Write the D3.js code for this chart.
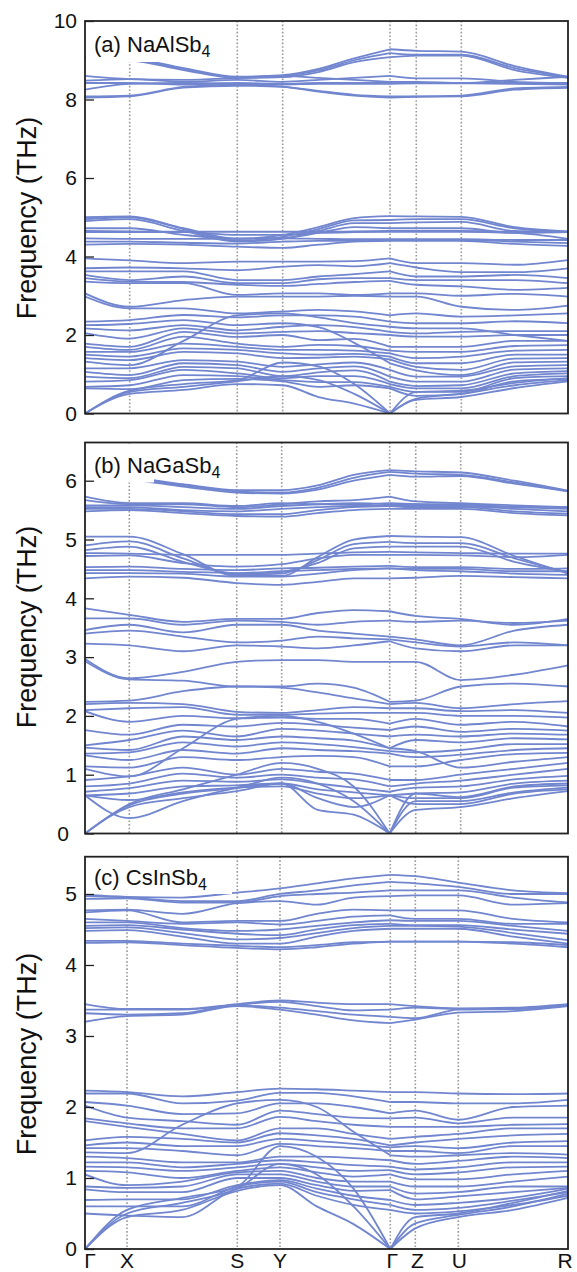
<!DOCTYPE html>
<html>
<head>
<meta charset="utf-8">
<script src="https://cdn.jsdelivr.net/npm/d3@7"></script>
<style>
  body { margin: 0; background: #fff; }
  text { font-family: Helvetica, Arial, "Liberation Sans", sans-serif; fill: #111; }
</style>
</head>
<body>
<script>
// high-symmetry path labels
var pathLabels = ["Γ", "X", "S", "Y", "Γ", "Z", "U", "R"];

// ---------- (a) NaAlSb4 ----------
var hsA = [0, 0.0925, 0.3153, 0.4093, 0.6315, 0.6859, 0.7791, 1.0];
// sample k: G, X, XS/2, S, Y, YG/3, 2YG/3, G, Z, U, UR/2, R
var kA = [0, 0.0925, 0.2039, 0.3153, 0.4093, 0.4834, 0.5574, 0.6315, 0.6859, 0.7791, 0.8896, 1.0];
var ticksA = [0, 2, 4, 6, 8, 10];
var bandsA = [
  [0, 0.50, 0.60, 0.75, 0.72, 0.42, 0.25, 0, 0.35, 0.42, 0.65, 0.82],
  [0, 0.55, 0.68, 0.82, 0.95, 0.85, 0.50, 0, 0.38, 0.50, 0.72, 0.85],
  [0, 0.58, 0.75, 0.85, 1.30, 1.20, 0.75, 0, 0.55, 0.58, 0.78, 0.90],
  [0.64, 0.62, 0.85, 0.88, 0.82, 0.68, 0.72, 0.64, 0.45, 0.50, 0.82, 0.88],
  [0.68, 0.72, 0.98, 0.95, 0.85, 0.80, 0.80, 0.68, 0.55, 0.55, 0.90, 0.95],
  [0.81, 0.85, 1.11, 1.02, 0.90, 0.95, 0.95, 0.75, 0.64, 0.64, 0.95, 1.02],
  [0.94, 0.90, 1.19, 1.15, 0.95, 1.05, 1.10, 0.81, 0.70, 0.72, 1.02, 1.08],
  [1.06, 0.98, 1.28, 1.23, 1.06, 1.15, 1.20, 0.94, 0.81, 0.81, 1.12, 1.15],
  [1.15, 1.15, 1.36, 1.32, 1.19, 1.25, 1.30, 1.11, 0.94, 0.94, 1.20, 1.23],
  [1.32, 1.23, 1.85, 2.50, 2.55, 2.45, 2.30, 2.21, 2.17, 2.17, 2.00, 1.85],
  [1.41, 1.36, 1.57, 1.53, 1.41, 1.42, 1.45, 1.38, 1.19, 1.11, 1.40, 1.41],
  [1.50, 1.45, 1.66, 1.62, 1.53, 1.50, 1.52, 1.45, 1.28, 1.28, 1.50, 1.50],
  [1.57, 1.57, 1.78, 1.70, 1.62, 1.62, 1.60, 1.53, 1.41, 1.45, 1.60, 1.62],
  [1.70, 1.62, 1.96, 1.78, 1.70, 1.75, 1.72, 1.60, 1.57, 1.57, 1.72, 1.74],
  [1.78, 1.70, 2.08, 1.95, 2.00, 1.87, 1.90, 1.70, 1.70, 1.70, 1.85, 1.85],
  [2.05, 1.91, 2.17, 2.04, 2.08, 2.10, 2.05, 2.00, 1.96, 1.96, 2.00, 2.00],
  [2.17, 2.12, 2.25, 2.12, 2.21, 2.25, 2.20, 2.08, 2.04, 2.08, 2.10, 2.10],
  [2.25, 2.28, 2.38, 2.25, 2.30, 2.20, 1.80, 1.28, 1.10, 0.98, 1.30, 1.32],
  [2.34, 2.38, 2.51, 2.45, 2.50, 2.50, 2.47, 2.34, 2.30, 2.30, 2.35, 2.30],
  [2.98, 2.68, 2.68, 2.55, 2.60, 2.64, 2.60, 2.50, 2.55, 2.47, 2.50, 2.55],
  [3.06, 2.72, 2.89, 2.98, 2.98, 2.98, 3.00, 2.98, 2.98, 2.72, 2.64, 2.75],
  [3.36, 3.32, 3.32, 3.02, 3.06, 3.06, 3.02, 3.06, 3.06, 3.00, 3.05, 2.98],
  [3.45, 3.36, 3.35, 3.28, 3.25, 3.30, 3.35, 3.38, 3.28, 3.24, 3.15, 3.20],
  [3.53, 3.40, 3.49, 3.32, 3.32, 3.42, 3.45, 3.45, 3.40, 3.40, 3.40, 3.32],
  [3.62, 3.62, 3.62, 3.40, 3.40, 3.49, 3.55, 3.62, 3.49, 3.49, 3.53, 3.45],
  [3.70, 3.72, 3.70, 3.65, 3.74, 3.78, 3.75, 3.83, 3.72, 3.60, 3.60, 3.70],
  [3.95, 3.90, 3.83, 3.87, 3.87, 3.87, 3.88, 3.95, 3.83, 3.83, 3.79, 3.91],
  [4.30, 4.32, 4.30, 4.25, 4.22, 4.30, 4.38, 4.40, 4.40, 4.40, 4.32, 4.27],
  [4.38, 4.38, 4.35, 4.33, 4.38, 4.40, 4.40, 4.42, 4.42, 4.42, 4.38, 4.34],
  [4.46, 4.45, 4.45, 4.45, 4.46, 4.45, 4.44, 4.44, 4.44, 4.44, 4.42, 4.42],
  [4.62, 4.62, 4.62, 4.55, 4.55, 4.60, 4.62, 4.63, 4.63, 4.63, 4.60, 4.45],
  [4.65, 4.64, 4.63, 4.63, 4.63, 4.63, 4.64, 4.65, 4.65, 4.65, 4.63, 4.62],
  [4.72, 4.72, 4.55, 4.46, 4.47, 4.60, 4.75, 4.72, 4.72, 4.72, 4.60, 4.62],
  [4.90, 4.95, 4.65, 4.38, 4.45, 4.65, 4.85, 4.85, 4.87, 4.88, 4.65, 4.62],
  [4.95, 5.00, 4.70, 4.40, 4.50, 4.70, 4.92, 4.93, 4.95, 4.95, 4.72, 4.63],
  [5.00, 5.02, 4.72, 4.45, 4.55, 4.75, 4.98, 5.03, 5.02, 5.01, 4.75, 4.64],
  [8.05, 8.08, 8.30, 8.35, 8.32, 8.20, 8.10, 8.05, 8.07, 8.08, 8.25, 8.30],
  [8.08, 8.10, 8.32, 8.38, 8.33, 8.22, 8.12, 8.08, 8.08, 8.10, 8.28, 8.32],
  [8.25, 8.40, 8.42, 8.40, 8.38, 8.40, 8.40, 8.40, 8.41, 8.41, 8.40, 8.38],
  [8.42, 8.42, 8.38, 8.42, 8.40, 8.42, 8.42, 8.42, 8.42, 8.42, 8.42, 8.40],
  [8.48, 8.52, 8.45, 8.50, 8.45, 8.50, 8.55, 8.60, 8.54, 8.54, 8.45, 8.42],
  [8.60, 8.52, 8.50, 8.55, 8.60, 8.55, 8.50, 8.45, 8.45, 8.42, 8.50, 8.58],
  [9.04, 9.00, 8.75, 8.55, 8.57, 8.70, 8.95, 9.08, 9.12, 9.12, 8.75, 8.55],
  [9.06, 9.03, 8.78, 8.56, 8.60, 8.74, 9.00, 9.18, 9.14, 9.14, 8.80, 8.57],
  [9.08, 9.05, 8.80, 8.58, 8.62, 8.78, 9.05, 9.28, 9.24, 9.22, 8.85, 8.58]
];

// ---------- (b) NaGaSb4 ----------
var hsB = [0, 0.0917, 0.3141, 0.4072, 0.6308, 0.6847, 0.7778, 1.0];
var kB = [0, 0.0917, 0.2029, 0.3141, 0.4072, 0.4817, 0.5563, 0.6308, 0.6847, 0.7778, 0.8889, 1.0];
var ticksB = [0, 1, 2, 3, 4, 5, 6];
var bandsB = [
  [0, 0.45, 0.60, 0.72, 0.85, 0.40, 0.32, 0, 0.40, 0.45, 0.60, 0.72],
  [0, 0.48, 0.68, 0.78, 0.95, 0.85, 0.55, 0, 0.55, 0.55, 0.70, 0.78],
  [0, 0.50, 0.75, 1.00, 1.20, 1.10, 0.80, 0, 0.68, 0.62, 0.80, 0.85],
  [0.65, 0.26, 0.55, 0.77, 0.85, 0.60, 0.45, 0.65, 0.50, 0.50, 0.68, 0.75],
  [0.65, 0.57, 0.70, 0.78, 0.80, 0.68, 0.60, 0.65, 0.60, 0.60, 0.78, 0.82],
  [0.65, 0.68, 0.80, 0.82, 0.85, 0.75, 0.70, 0.65, 0.68, 0.70, 0.85, 0.90],
  [0.71, 0.77, 0.90, 0.88, 0.92, 0.85, 0.78, 0.71, 0.78, 0.80, 0.92, 0.98],
  [0.80, 0.85, 1.02, 0.95, 1.00, 0.95, 0.92, 0.80, 0.85, 0.90, 1.00, 1.10],
  [0.91, 0.97, 1.12, 1.00, 1.10, 1.05, 1.02, 0.91, 0.91, 1.00, 1.10, 1.20],
  [1.10, 0.97, 1.45, 1.95, 2.00, 1.90, 1.70, 1.45, 1.40, 1.12, 1.22, 1.30],
  [1.14, 1.12, 1.30, 1.25, 1.30, 1.32, 1.30, 1.14, 1.14, 1.25, 1.35, 1.37],
  [1.33, 1.25, 1.42, 1.36, 1.45, 1.42, 1.40, 1.36, 1.30, 1.34, 1.42, 1.45],
  [1.36, 1.38, 1.55, 1.48, 1.55, 1.52, 1.47, 1.40, 1.38, 1.42, 1.52, 1.52],
  [1.46, 1.42, 1.65, 1.59, 1.65, 1.62, 1.58, 1.45, 1.59, 1.55, 1.62, 1.60],
  [1.50, 1.59, 1.75, 1.65, 1.78, 1.75, 1.70, 1.65, 1.68, 1.65, 1.70, 1.68],
  [1.76, 1.68, 1.85, 1.82, 1.88, 1.85, 1.80, 1.76, 1.82, 1.73, 1.78, 1.75],
  [2.08, 1.90, 2.00, 1.96, 1.97, 1.95, 1.95, 1.87, 1.95, 1.85, 1.90, 1.82],
  [2.10, 2.13, 2.15, 2.02, 2.02, 2.04, 2.05, 2.05, 2.05, 2.00, 2.00, 1.97],
  [2.20, 2.22, 2.20, 2.07, 2.05, 2.10, 2.15, 2.13, 2.13, 2.08, 2.10, 2.05],
  [2.24, 2.26, 2.42, 2.50, 2.48, 2.40, 2.30, 2.20, 2.22, 2.13, 2.20, 2.25],
  [2.93, 2.62, 2.60, 2.50, 2.50, 2.55, 2.48, 2.24, 2.26, 2.50, 2.55, 2.50],
  [2.97, 2.64, 2.75, 2.92, 2.95, 2.95, 2.92, 2.92, 2.92, 2.61, 2.70, 2.86],
  [3.23, 3.20, 3.10, 3.20, 3.18, 3.15, 3.20, 3.27, 3.15, 3.10, 3.20, 3.20],
  [3.40, 3.45, 3.35, 3.25, 3.28, 3.35, 3.32, 3.30, 3.25, 3.18, 3.25, 3.20],
  [3.46, 3.55, 3.42, 3.55, 3.55, 3.45, 3.40, 3.35, 3.30, 3.20, 3.45, 3.55],
  [3.66, 3.66, 3.55, 3.62, 3.60, 3.55, 3.60, 3.62, 3.60, 3.62, 3.58, 3.62],
  [3.83, 3.72, 3.60, 3.65, 3.65, 3.75, 3.80, 3.78, 3.70, 3.65, 3.55, 3.65],
  [4.34, 4.37, 4.35, 4.26, 4.23, 4.28, 4.34, 4.34, 4.35, 4.38, 4.36, 4.34],
  [4.43, 4.43, 4.42, 4.37, 4.37, 4.42, 4.48, 4.51, 4.48, 4.46, 4.42, 4.40],
  [4.48, 4.48, 4.45, 4.43, 4.46, 4.48, 4.50, 4.51, 4.50, 4.50, 4.46, 4.46],
  [4.53, 4.54, 4.50, 4.48, 4.51, 4.52, 4.54, 4.55, 4.53, 4.53, 4.50, 4.51],
  [4.72, 4.73, 4.60, 4.54, 4.58, 4.68, 4.74, 4.74, 4.74, 4.73, 4.70, 4.74],
  [4.77, 4.76, 4.74, 4.74, 4.74, 4.76, 4.78, 4.79, 4.78, 4.77, 4.76, 4.76],
  [4.82, 4.88, 4.62, 4.42, 4.45, 4.60, 4.85, 4.88, 4.88, 4.88, 4.62, 4.45],
  [4.90, 4.97, 4.68, 4.40, 4.42, 4.65, 4.92, 4.96, 4.94, 4.94, 4.68, 4.44],
  [5.05, 5.05, 4.75, 4.38, 4.38, 4.70, 5.00, 5.06, 5.05, 5.04, 4.72, 4.42],
  [5.48, 5.50, 5.45, 5.40, 5.39, 5.45, 5.50, 5.52, 5.52, 5.52, 5.45, 5.41],
  [5.52, 5.52, 5.48, 5.43, 5.43, 5.50, 5.55, 5.57, 5.55, 5.55, 5.48, 5.44],
  [5.55, 5.55, 5.50, 5.48, 5.52, 5.55, 5.57, 5.57, 5.57, 5.57, 5.52, 5.48],
  [5.58, 5.58, 5.55, 5.52, 5.57, 5.60, 5.62, 5.60, 5.60, 5.60, 5.55, 5.52],
  [5.67, 5.60, 5.60, 5.55, 5.60, 5.65, 5.67, 5.73, 5.65, 5.62, 5.58, 5.55],
  [5.73, 5.62, 5.62, 5.57, 5.62, 5.60, 5.60, 5.62, 5.60, 5.57, 5.56, 5.55],
  [6.05, 6.02, 5.90, 5.80, 5.78, 5.85, 6.00, 6.10, 6.07, 6.08, 5.95, 5.82],
  [6.07, 6.04, 5.92, 5.82, 5.80, 5.88, 6.05, 6.15, 6.12, 6.10, 5.97, 5.82],
  [6.09, 6.06, 5.94, 5.84, 5.84, 5.92, 6.10, 6.18, 6.16, 6.14, 6.00, 5.83]
];

// ---------- (c) CsInSb4 ----------
var hsC = [0, 0.0870, 0.3153, 0.4037, 0.6321, 0.6839, 0.7729, 1.0];
var kC = [0, 0.0870, 0.2012, 0.3153, 0.4037, 0.4798, 0.5559, 0.6321, 0.6839, 0.7729, 0.8865, 1.0];
var ticksC = [0, 1, 2, 3, 4, 5];
var bandsC = [
  [0, 0.45, 0.55, 0.82, 0.90, 0.60, 0.35, 0, 0.29, 0.45, 0.55, 0.72],
  [0, 0.50, 0.65, 0.85, 1.20, 1.05, 0.60, 0, 0.36, 0.48, 0.60, 0.78],
  [0, 0.55, 0.72, 0.88, 1.45, 1.30, 0.85, 0, 0.45, 0.50, 0.65, 0.82],
  [0.50, 0.47, 0.45, 0.85, 0.92, 0.75, 0.62, 0.55, 0.50, 0.53, 0.62, 0.75],
  [0.60, 0.60, 0.60, 0.88, 0.95, 0.80, 0.70, 0.62, 0.55, 0.58, 0.68, 0.80],
  [0.69, 0.70, 0.70, 0.90, 0.97, 0.85, 0.75, 0.69, 0.62, 0.65, 0.72, 0.85],
  [0.84, 0.80, 0.80, 1.00, 1.00, 0.90, 0.82, 0.83, 0.70, 0.74, 0.80, 0.86],
  [0.88, 0.86, 0.88, 1.05, 1.05, 0.95, 0.88, 0.88, 0.78, 0.80, 0.88, 0.88],
  [1.05, 0.90, 0.95, 1.08, 1.10, 1.00, 0.95, 0.95, 0.88, 0.88, 0.95, 1.02],
  [1.10, 1.08, 1.00, 1.10, 1.15, 1.08, 1.02, 1.05, 0.98, 0.98, 1.05, 1.10],
  [1.16, 1.15, 1.10, 1.15, 1.20, 1.15, 1.10, 1.11, 1.05, 1.08, 1.15, 1.16],
  [1.22, 1.22, 1.15, 1.20, 1.25, 1.22, 1.18, 1.16, 1.12, 1.15, 1.22, 1.22],
  [1.30, 1.28, 1.22, 1.22, 1.30, 1.30, 1.28, 1.25, 1.20, 1.24, 1.30, 1.28],
  [1.36, 1.35, 1.75, 2.05, 2.10, 2.00, 1.65, 1.32, 1.30, 1.32, 1.35, 1.33],
  [1.42, 1.42, 1.38, 1.32, 1.48, 1.45, 1.42, 1.38, 1.38, 1.35, 1.45, 1.45],
  [1.46, 1.50, 1.45, 1.45, 1.55, 1.52, 1.48, 1.43, 1.45, 1.42, 1.50, 1.52],
  [1.53, 1.58, 1.55, 1.50, 1.63, 1.60, 1.55, 1.46, 1.50, 1.55, 1.60, 1.62],
  [1.80, 1.72, 1.62, 1.53, 1.70, 1.70, 1.62, 1.55, 1.58, 1.62, 1.70, 1.70],
  [1.84, 1.77, 1.70, 1.70, 1.86, 1.80, 1.75, 1.72, 1.72, 1.72, 1.75, 1.76],
  [2.02, 1.85, 1.80, 1.75, 1.95, 1.90, 1.85, 1.84, 1.85, 1.77, 1.85, 1.85],
  [2.07, 2.02, 1.90, 1.91, 2.05, 2.05, 2.00, 1.91, 1.95, 1.82, 2.00, 2.02],
  [2.19, 2.19, 2.05, 2.09, 2.20, 2.20, 2.15, 2.07, 2.07, 2.05, 2.05, 2.10],
  [2.23, 2.21, 2.15, 2.21, 2.26, 2.25, 2.23, 2.21, 2.21, 2.19, 2.18, 2.19],
  [3.20, 3.28, 3.30, 3.42, 3.37, 3.30, 3.22, 3.18, 3.23, 3.33, 3.35, 3.42],
  [3.32, 3.30, 3.32, 3.43, 3.40, 3.35, 3.30, 3.27, 3.25, 3.37, 3.38, 3.43],
  [3.37, 3.37, 3.37, 3.44, 3.48, 3.42, 3.36, 3.37, 3.40, 3.38, 3.38, 3.44],
  [3.45, 3.38, 3.38, 3.45, 3.50, 3.47, 3.45, 3.45, 3.42, 3.39, 3.40, 3.45],
  [4.31, 4.32, 4.28, 4.24, 4.22, 4.25, 4.30, 4.33, 4.33, 4.33, 4.30, 4.25],
  [4.34, 4.34, 4.30, 4.27, 4.25, 4.28, 4.32, 4.33, 4.33, 4.33, 4.32, 4.28],
  [4.48, 4.49, 4.40, 4.30, 4.30, 4.40, 4.48, 4.51, 4.51, 4.51, 4.40, 4.30],
  [4.52, 4.53, 4.45, 4.36, 4.38, 4.45, 4.52, 4.55, 4.55, 4.54, 4.45, 4.35],
  [4.55, 4.56, 4.50, 4.44, 4.42, 4.50, 4.56, 4.58, 4.56, 4.56, 4.50, 4.44],
  [4.60, 4.60, 4.52, 4.48, 4.50, 4.55, 4.60, 4.63, 4.62, 4.62, 4.55, 4.48],
  [4.65, 4.62, 4.58, 4.60, 4.57, 4.62, 4.68, 4.70, 4.65, 4.65, 4.58, 4.58],
  [4.74, 4.77, 4.60, 4.62, 4.62, 4.72, 4.78, 4.77, 4.77, 4.77, 4.65, 4.60],
  [4.77, 4.78, 4.72, 4.87, 4.90, 4.85, 4.95, 4.97, 4.98, 4.98, 4.85, 4.87],
  [4.93, 4.94, 4.88, 4.88, 4.97, 5.00, 5.02, 5.05, 5.05, 5.05, 4.95, 4.88],
  [4.97, 4.95, 4.90, 4.90, 5.00, 5.05, 5.12, 5.17, 5.15, 5.10, 5.00, 5.00],
  [4.99, 4.96, 4.95, 5.02, 5.08, 5.15, 5.22, 5.27, 5.25, 5.16, 5.05, 5.01]
];

var W = 577, H = 1272;
var left = 85, right = 568;
var bandColor = '#7186cf';

var panels = [
  { name: "(a) NaAlSb", sub: "4", hs: hsA, k: kA, bands: bandsA, ticks: ticksA, yMax: 10,
    top: 21, bottom: 413.5, box: [86, 22, 74, 40], labelY: 52, titleY: 218 },
  { name: "(b) NaGaSb", sub: "4", hs: hsB, k: kB, bands: bandsB, ticks: ticksB, yMax: 6.65,
    top: 442.5, bottom: 833.5, box: [86, 443.5, 68, 39], labelY: 472.5, titleY: 627 },
  { name: "(c) CsInSb", sub: "4", hs: hsC, k: kC, bands: bandsC, ticks: ticksC, yMax: 5.525,
    top: 856.7, bottom: 1249, box: [86, 857.5, 146, 36.5], labelY: 885, titleY: 1054 }
];

var svg = d3.select('body').append('svg')
    .attr('width', W)
    .attr('height', H);

svg.append('rect').attr('width', W).attr('height', H).attr('fill', '#fff');

var x = d3.scaleLinear().domain([0, 1]).range([left, right]);

panels.forEach(function (p, pi) {
    var y = d3.scaleLinear().domain([0, p.yMax]).range([p.bottom, p.top]);
    var g = svg.append('g');

    g.append('clipPath').attr('id', 'clip' + pi)
        .append('rect')
        .attr('x', left).attr('y', p.top)
        .attr('width', right - left).attr('height', p.bottom - p.top);

    // dotted high-symmetry lines
    g.selectAll('line.hs')
        .data(p.hs.slice(1, -1))
        .enter().append('line')
        .attr('class', 'hs')
        .attr('x1', function (d) { return x(d); })
        .attr('x2', function (d) { return x(d); })
        .attr('y1', p.top).attr('y2', p.bottom)
        .attr('stroke', '#999')
        .attr('stroke-width', 1.6)
        .attr('stroke-dasharray', '1.6,2');

    // bands, split at the middle Gamma point
    var line = d3.line()
        .x(function (d) { return x(d[0]); })
        .y(function (d) { return y(d[1]); })
        .curve(d3.curveMonotoneX);
    var split = 7;
    var segs = [];
    p.bands.forEach(function (b) {
        var pts = b.map(function (v, i) { return [p.k[i], v]; });
        segs.push(pts.slice(0, split + 1));
        segs.push(pts.slice(split));
    });
    g.append('g').attr('clip-path', 'url(#clip' + pi + ')')
        .selectAll('path')
        .data(segs)
        .enter().append('path')
        .attr('d', line)
        .attr('fill', 'none')
        .attr('stroke', bandColor)
        .attr('stroke-width', 1.8);

    // label with white background
    g.append('rect')
        .attr('x', p.box[0]).attr('y', p.box[1])
        .attr('width', p.box[2]).attr('height', p.box[3])
        .attr('fill', '#fff');
    var t = g.append('text')
        .attr('x', 94).attr('y', p.labelY)
        .attr('font-size', 22);
    t.append('tspan').text(p.name);
    t.append('tspan').attr('dy', 5).attr('font-size', 16).text(p.sub);

    // frame
    g.append('rect')
        .attr('x', left).attr('y', p.top)
        .attr('width', right - left).attr('height', p.bottom - p.top)
        .attr('fill', 'none')
        .attr('stroke', '#222')
        .attr('stroke-width', 1.8);

    // y axis
    var axis = d3.axisLeft(y)
        .tickValues(p.ticks)
        .tickFormat(d3.format('d'))
        .tickSizeInner(-9)
        .tickSizeOuter(0)
        .tickPadding(8);
    var ax = g.append('g')
        .attr('transform', 'translate(' + left + ',0)')
        .call(axis);
    ax.select('.domain').remove();
    ax.selectAll('line').attr('stroke', '#222').attr('stroke-width', 1.3);
    ax.selectAll('text')
        .attr('font-size', 21)
        .attr('font-family', 'Helvetica, Arial, "Liberation Sans", sans-serif')
        .attr('fill', '#111');
    if (pi === 1) {
        ax.selectAll('text').filter(function (d) { return d === 0; })
            .attr('dx', -8);
    }

    g.append('text')
        .attr('transform', 'translate(27,' + p.titleY + ') rotate(-90)')
        .attr('text-anchor', 'middle')
        .attr('dominant-baseline', 'central')
        .attr('font-size', 27)
        .text('Frequency (THz)');
});

// k-path labels under the last panel
var labelNudge = [5, 0, 0, 0, 2, 2, 1, -3];
svg.append('g').selectAll('text')
    .data(hsC)
    .enter().append('text')
    .attr('x', function (d, i) { return x(d) + labelNudge[i]; })
    .attr('y', 1268)
    .attr('text-anchor', 'middle')
    .attr('font-size', 21)
    .text(function (d, i) { return pathLabels[i]; });
</script>
</body>
</html>
